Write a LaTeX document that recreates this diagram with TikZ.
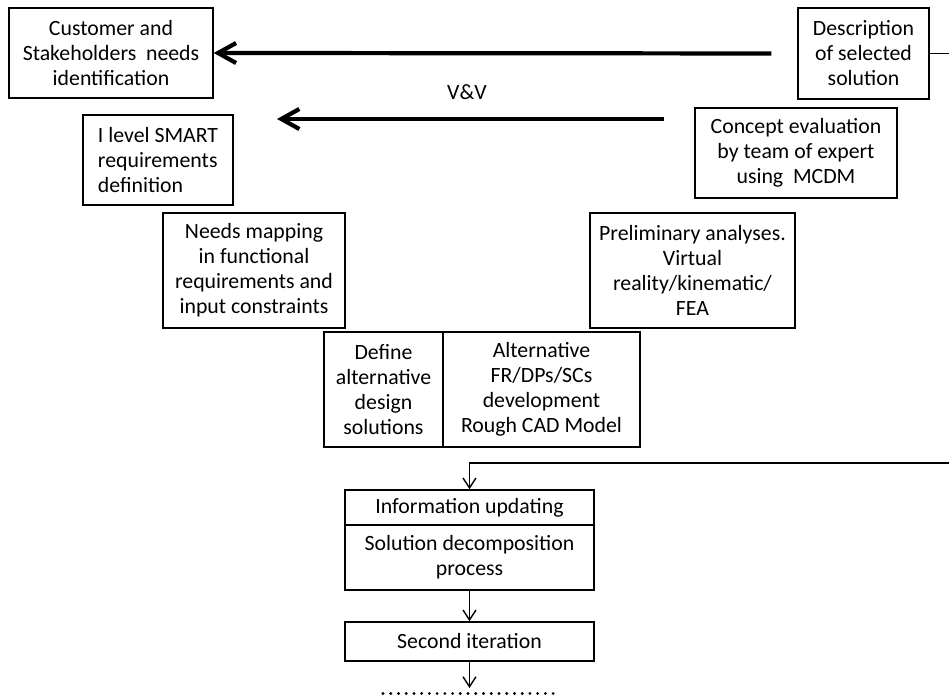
\documentclass[tikz,border=0pt]{standalone}
\usepackage{fontspec}
\setmainfont{Carlito}
\usepackage{tikz}
\usetikzlibrary{positioning,arrows.meta}

\begin{document}
\begin{tikzpicture}[
    procbox/.style={draw, line width=0.85pt, align=center, inner sep=2pt,
        font=\fontsize{12.4}{14.2}\selectfont},
    bigarrow/.style={line width=2.4pt, -{Straight Barb[length=3.6mm, width=4mm]}},
    flow/.style={line width=0.8pt, -{Straight Barb[length=2mm, width=2.6mm]}}
]
    \useasboundingbox (0,0) rectangle (18.98,14);

    % First row
    \node[procbox, minimum width=4.08cm, minimum height=1.8cm] (cust) at (2.22,12.94)
        {Customer and\\Stakeholders~ needs\\identification};
    \node[procbox, minimum width=2.62cm, minimum height=1.82cm] (desc) at (17.27,12.93)
        {Description\\of selected\\solution};

    % Second row
    \node[procbox, align=left, minimum width=3.0cm, minimum height=1.8cm]
        (smart) at (3.16,10.8) {I level SMART\\requirements\\definition};
    \node[procbox, minimum width=4.04cm, minimum height=1.8cm] (concept) at (15.92,10.94)
        {Concept evaluation\\by team of expert\\using~ MCDM};
    \node[font=\fontsize{12.4}{14.2}\selectfont] (vv) at (9.34,12.16) {V\&V};

    % Third row
    \node[procbox, minimum width=3.64cm, minimum height=2.3cm] (needs) at (5.08,8.59)
        {Needs mapping\\in functional\\requirements and\\input constraints};
    \node[procbox, minimum width=4.1cm, minimum height=2.3cm] (prelim) at (13.85,8.59)
        {Preliminary analyses.\\Virtual\\reality/kinematic/\\FEA};

    % Alternatives
    \node[procbox, minimum width=2.38cm, minimum height=2.3cm] (define) at (7.67,6.21)
        {Define\\alternative\\design\\solutions};
    \node[procbox, minimum width=3.94cm, minimum height=2.3cm] (alt) at (10.83,6.21)
        {Alternative\\FR/DPs/SCs\\development\\Rough CAD Model};

    % Decomposition
    \node[procbox, minimum width=4.98cm, minimum height=0.7cm] (info) at (9.39,3.85)
        {Information updating};
    \node[procbox, minimum width=4.98cm, minimum height=1.3cm] (decomp) at (9.39,2.85)
        {Solution decomposition\\process};
    \node[procbox, minimum width=4.98cm, minimum height=0.78cm] (second) at (9.39,1.17)
        {Second iteration};

    % Free ends
    \coordinate (deskR) at (18.98,12.93);
    \coordinate (vvS) at (13.28,11.62);
    \coordinate (vvE) at (5.54,11.62);
    \coordinate (fbR) at (18.98,4.74);
    \coordinate (fbC) at (9.39,4.74);
    \coordinate (dotsC) at (9.39,0.24);
    \coordinate (dotsL) at (7.66,0.13);
    \coordinate (dotsR) at (11.08,0.13);

    % Arrows
    \draw[bigarrow, shorten <=0.52cm] (desc.west) -- (cust.east);
    \draw[bigarrow] (vvS) -- (vvE);
    \draw[line width=0.85pt] (desc.east) -- (deskR);
    \draw[flow] (fbR) -- (fbC) -- (info.north);
    \draw[flow] (decomp.south) -- (second.north);
    \draw[flow] (second.south) -- (dotsC);
    \draw[line width=1.8pt, line cap=round, dash pattern=on 0pt off 4.4pt] (dotsL) -- (dotsR);
\end{tikzpicture}
\end{document}
